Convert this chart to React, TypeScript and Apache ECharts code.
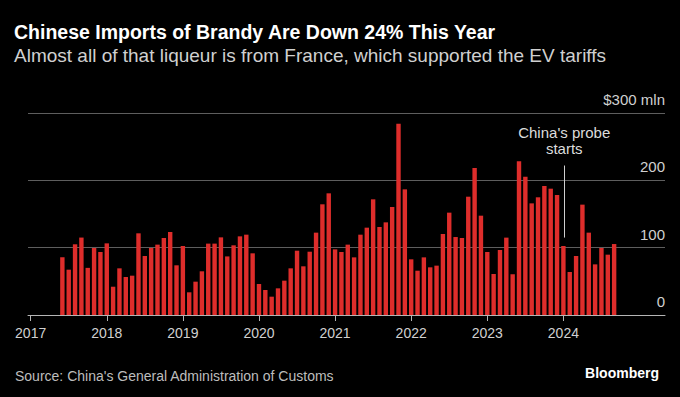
import React, { useEffect, useRef } from "react";
import * as echarts from "echarts";

// Monthly Chinese brandy imports, $ mln, starting June 2017, ending September 2024
const firstYear = 2017;
const firstMonth = 6;
const importValues = [
  // 2017 Jun-Dec
  85.6, 67.3, 105, 115, 70, 99.5, 93.6,
  // 2018
  106.4, 42, 69.3, 56.4, 58.4, 121.3, 87.6, 99.5, 104.5, 114.4, 123.3, 73.8,
  // 2019
  102.5, 33.7, 49.5, 64.9, 106, 106, 115.3, 87, 103.5, 116.8, 119.3, 91.6,
  // 2020
  46, 37.1, 27.2, 39.6, 51, 69.3, 95.5, 72.3, 94, 122.3, 164.4, 180.7,
  // 2021
  97.5, 93.6, 104.5, 85.6, 119.3, 129.7, 171.8, 130.7, 137.6, 160.4, 284.2, 186.6,
  // 2022
  82.7, 65.8, 85.6, 70.8, 73.3, 120.3, 152, 115.8, 114.4, 175.7, 218.3, 147.5,
  // 2023
  93.6, 60.9, 96.5, 114.9, 60.4, 228.2, 205.4, 165.8, 174.8, 191.6, 187.6, 178.2,
  // 2024 Jan-Sep
  102.5, 63.9, 87.6, 163.9, 122.3, 75.2, 99.5, 89.6, 105.4,
];

// x axis in decimal years
const yearTicks = [2017, 2018, 2019, 2020, 2021, 2022, 2023, 2024];
const yTicks = [0, 100, 200, 300];
const axisStart = 2016.965;
const axisEnd = 2025.335;

const probeTime = 2024.011; // Jan 5, 2024
const probeLineTop = 222;
const probeLineBottom = 115;
const probeLabel = "China's probe\nstarts";

const titleText = "Chinese Imports of Brandy Are Down 24% This Year";
const subtitleText =
  "Almost all of that liqueur is from France, which supported the EV tariffs";
const sourceText = "Source: China's General Administration of Customs";
const brandText = "Bloomberg";

function monthTime(i: number): number {
  const total = firstMonth - 1 + i;
  const y = firstYear + Math.floor(total / 12);
  const m = total % 12;
  return y + m / 12;
}

export default function App() {
  const ref = useRef<HTMLDivElement>(null);

  useEffect(() => {
    document.body.style.margin = "0";
    document.body.style.background = "#000";
    if (!ref.current) return;
    const chart = echarts.init(ref.current, undefined, { renderer: "svg" });
    const font = "'Liberation Sans', Arial, Helvetica, sans-serif";
    const data = importValues.map((v, i) => [monthTime(i), v]);

    chart.setOption({
      animation: false,
      backgroundColor: "#000",
      textStyle: { fontFamily: font },
      title: [
        {
          text: titleText,
          subtext: subtitleText,
          left: 14,
          top: 21,
          padding: 0,
          itemGap: 1,
          textStyle: {
            color: "#fff",
            fontSize: 19.5,
            fontWeight: "bold",
            fontFamily: font,
            lineHeight: 22,
          },
          subtextStyle: {
            color: "#d0d0d0",
            fontSize: 19,
            fontFamily: font,
            lineHeight: 22,
          },
        },
        {
          text: sourceText,
          left: 15,
          top: 368,
          padding: 0,
          textStyle: {
            color: "#bdbdbd",
            fontSize: 14,
            fontWeight: "normal",
            fontFamily: font,
            lineHeight: 16,
          },
        },
        {
          text: brandText,
          right: 21,
          top: 365,
          padding: 0,
          textStyle: {
            color: "#fff",
            fontSize: 14,
            fontWeight: "bold",
            fontFamily: font,
            lineHeight: 16,
          },
        },
      ],
      grid: { left: 28, right: 15, top: 113, bottom: 82, containLabel: false },
      xAxis: {
        type: "value",
        min: axisStart,
        max: axisEnd,
        axisLine: { show: true, lineStyle: { color: "#b5b5b5", width: 1 } },
        axisTick: {
          show: true,
          length: 6,
          customValues: yearTicks,
          lineStyle: { color: "#b5b5b5", width: 1 },
        },
        axisLabel: {
          customValues: yearTicks,
          color: "#d0d0d0",
          fontSize: 14,
          margin: 11,
          fontFamily: font,
          formatter: (val: number) => String(Math.round(val)),
        },
        splitLine: { show: false },
      },
      yAxis: {
        type: "value",
        position: "right",
        min: 0,
        max: 300,
        interval: 100,
        axisLine: { show: false },
        axisTick: { show: false },
        splitLine: { show: true, lineStyle: { color: "#5e5e5e", width: 1 } },
        axisLabel: {
          inside: true,
          margin: 0,
          align: "right",
          verticalAlign: "bottom",
          padding: [0, 0, 6, 0],
          color: "#d0d0d0",
          fontSize: 15,
          fontFamily: font,
          formatter: (v: number) =>
            v === yTicks[yTicks.length - 1] ? `$${v} mln` : String(v),
        },
      },
      series: [
        {
          type: "bar",
          data,
          barWidth: 4.4,
          itemStyle: { color: "#de2d2b" },
          silent: true,
          markLine: {
            silent: true,
            symbol: ["none", "none"],
            lineStyle: { color: "#cfcfcf", width: 1, type: "solid" },
            label: {
              show: true,
              position: "start",
              distance: 9,
              formatter: probeLabel,
              color: "#dcdcdc",
              fontSize: 15,
              lineHeight: 16,
              fontFamily: font,
              align: "center",
            },
            data: [
              [
                { coord: [probeTime, probeLineTop] },
                { coord: [probeTime, probeLineBottom] },
              ],
            ],
          },
        },
      ],
    });
    return () => chart.dispose();
  }, []);

  return (
    <div
      ref={ref}
      style={{
        width: 680,
        height: 397,
        position: "fixed",
        left: 0,
        top: 0,
        background: "#000",
      }}
    />
  );
}
